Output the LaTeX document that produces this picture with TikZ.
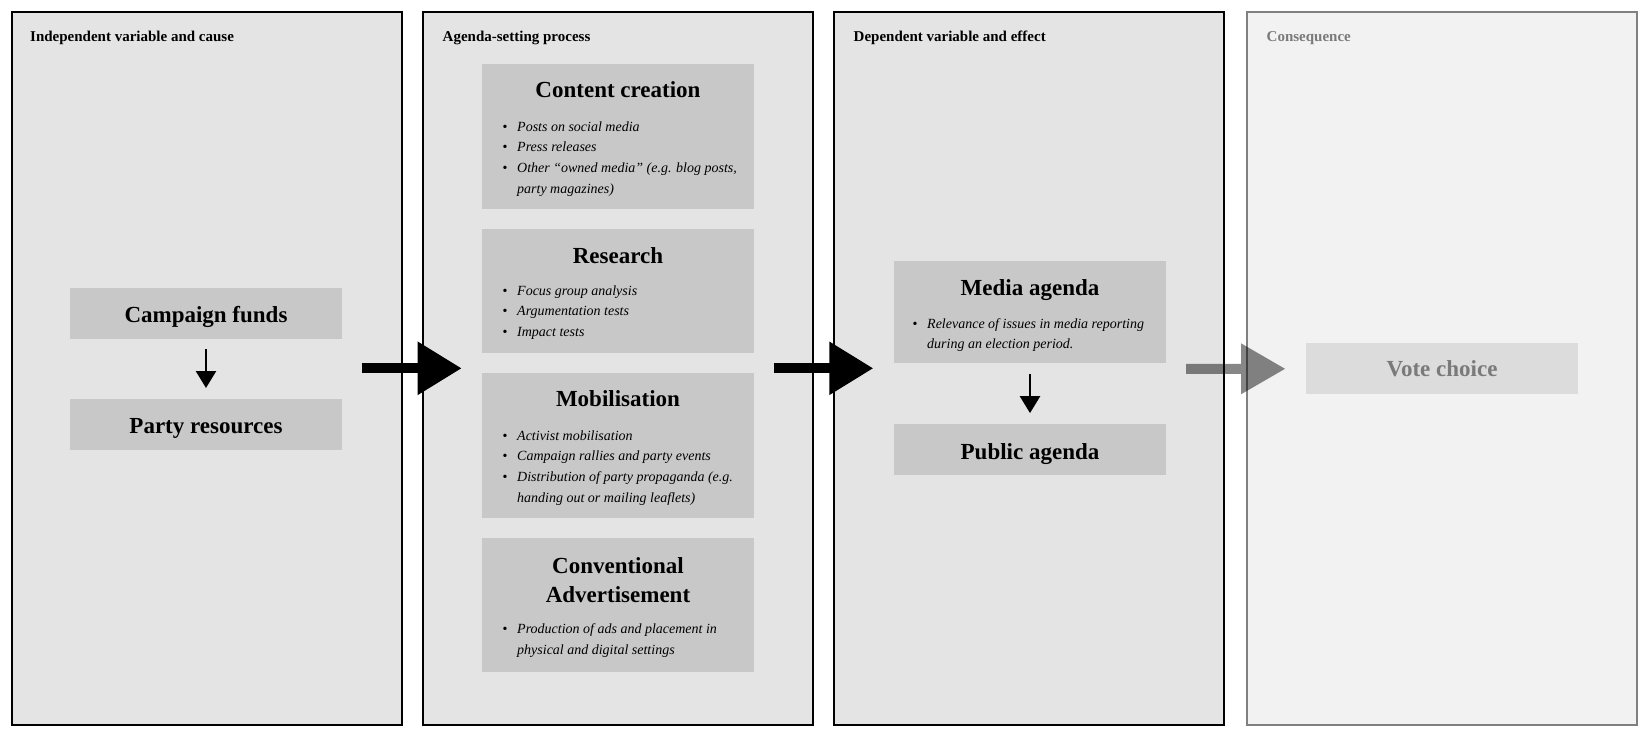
\documentclass[tikz,border=0pt]{standalone}
\usepackage{fontspec}
\setmainfont{Liberation Serif}
\usetikzlibrary{arrows.meta}
\definecolor{panelfill}{HTML}{E4E4E4}
\definecolor{panelfillb}{HTML}{F2F2F2}
\definecolor{boxfill}{HTML}{C8C8C8}
\definecolor{boxfillb}{HTML}{DCDCDC}
\definecolor{fadetext}{HTML}{7A7A7A}
\definecolor{fadeline}{HTML}{808080}
\newcommand\nsp{\spaceskip=0pt\xspaceskip=0pt\relax}
\newcommand\tsp{\spaceskip=\fontdimen2\font\relax\xspaceskip=\fontdimen2\font\relax}
\newcommand\itm[1]{\makebox[14.5pt][l]{\textbullet}\textit{#1}}
\newcommand\cnt[1]{\hspace*{14.5pt}\textit{#1}}
\tikzset{
  panel/.style={draw=black, line width=2pt, fill=panelfill, minimum width=390pt, minimum height=713.5pt, inner sep=0pt},
  panelgray/.style={panel, draw=fadeline, fill=panelfillb},
  header/.style={anchor=base west, inner sep=0pt, font=\fontsize{15}{18}\selectfont\bfseries},
  box/.style={fill=boxfill, minimum width=272pt, inner sep=0pt},
  boxtitle/.style={anchor=base, inner sep=0pt, text width=266pt, align=center, font=\fontsize{23}{29.4}\selectfont\bfseries},
  blist/.style={anchor=base west, inner sep=0pt, text width=262pt, align=left, font=\fontsize{14}{20.7}\selectfont},
  bigarrow/.style={line width=10pt, -{Triangle[width=50.7pt,length=44pt]}},
  smallarrow/.style={line width=2.5pt, -{Triangle[width=20pt,length=17pt]}},
  grayarrow/.style={fill=black, fill opacity=0.47}
}
\begin{document}
\begin{tikzpicture}[x=1pt,y=-1pt]
\useasboundingbox (0,0) rectangle (1648,737);
% panels
\node[panel] (p1) at (206.5,368.25) {};
\node[panel] (p2) at (617.5,368.25) {};
\node[panel] (p3) at (1029,368.25) {};
\node[panelgray] (p4) at (1441.75,368.25) {};
% headers
\node[header] (h1) at (30,41.7) {Independent variable and cause};
\node[header] (h2) at (442.5,41.7) {Agenda-setting process};
\node[header] (h3) at (853.5,41.7) {Dependent variable and effect};
\node[header, text=fadetext] (h4) at (1266.5,41.7) {Consequence};
% column 1
\node[box, minimum height=51pt] (cf) at (206,313.7) {};
\node[boxtitle] (cft) at (206,322.7) {\tsp Campaign funds};
\node[box, minimum height=51pt] (pr) at (206,424.7) {};
\node[boxtitle] (prt) at (206,433.3) {\tsp Party resources};
\draw[smallarrow, shorten <=10pt, shorten >=11pt] (cf) -- (pr);
% column 2
\node[box, minimum height=144.7pt] (cc) at (618,136.3) {};
\node[boxtitle] (cct) at (618,97.7) {\tsp Content creation};
\node[blist] (ccl) at (502.5,131) {\nsp\itm{Posts on social media}\\\itm{Press releases}\\\itm{Other “owned media” (e.g. blog posts,}\\\cnt{party magazines)}};
\node[box, minimum height=123.7pt] (rs) at (618,290.8) {};
\node[boxtitle] (rst) at (618,263.3) {\tsp Research};
\node[blist] (rsl) at (502.5,295) {\nsp\itm{Focus group analysis}\\\itm{Argumentation tests}\\\itm{Impact tests}};
\node[box, minimum height=144.4pt] (mb) at (618,445.5) {};
\node[boxtitle] (mbt) at (618,406.7) {\tsp Mobilisation};
\node[blist] (mbl) at (502.5,440) {\nsp\itm{Activist mobilisation}\\\itm{Campaign rallies and party events}\\\itm{Distribution of party propaganda (e.g.}\\\cnt{handing out or mailing leaflets)}};
\node[box, minimum height=133.4pt] (ca) at (618,605) {};
\node[boxtitle] (cat) at (618,573.3) {\tsp Conventional\\Advertisement};
\node[blist] (cal) at (502.5,633.5) {\nsp\itm{Production of ads and placement in}\\\cnt{physical and digital settings}};
% column 3
\node[box, minimum height=102.3pt] (ma) at (1030,312.2) {};
\node[boxtitle] (mat) at (1030,295) {\tsp Media agenda};
\node[blist] (mal) at (912.5,328) {\nsp\itm{Relevance of issues in media reporting}\\\cnt{during an election period.}};
\node[box, minimum height=51pt] (pa) at (1030,449.5) {};
\node[boxtitle] (pat) at (1030,459) {\tsp Public agenda};
\draw[smallarrow, shorten <=10.7pt, shorten >=10.7pt] (ma) -- (pa);
% column 4
\node[box, fill=boxfillb, minimum height=50.7pt] (vc) at (1442,368.7) {};
\node[boxtitle, text=fadetext] (vct) at (1442,376.7) {\tsp Vote choice};
% big arrows
\coordinate (a1s) at (361.7,368.3);
\coordinate (a1e) at (461.7,368.3);
\draw[bigarrow] (a1s) -- (a1e);
\coordinate (a2s) at (774,368.3);
\coordinate (a2e) at (873.3,368.3);
\draw[bigarrow] (a2s) -- (a2e);
\coordinate (a3s) at (1186,368.8);
\coordinate (a3e) at (1285,368.8);
\fill[grayarrow] (a3s) ++(0,-5) -- ++(55,0) -- ++(0,-20.5) -- (a3e) -- ++(-44,25.5) -- ++(0,-20.5) -- ++(-55,0) -- cycle;
\end{tikzpicture}
\end{document}
